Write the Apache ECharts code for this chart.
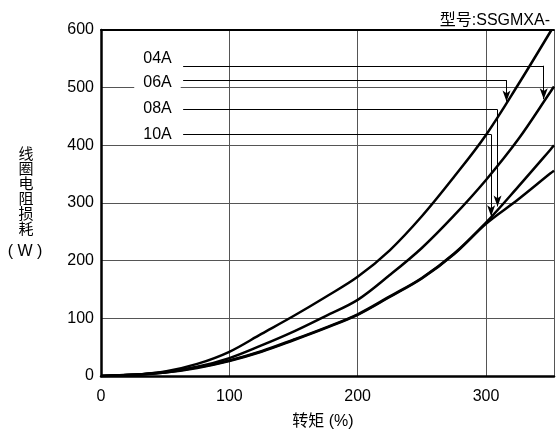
<!DOCTYPE html>
<html>
<head>
<meta charset="utf-8">
<script src="https://cdn.jsdelivr.net/npm/echarts@6/dist/echarts.min.js"></script>
<style>html,body{margin:0;padding:0;background:#fff;}#c{width:557px;height:437px;}</style>
</head>
<body>
<div id="c"></div>
<script>
// ---- data ----
const xTicks = [0, 100, 200, 300];
const yTicks = [0, 100, 200, 300, 400, 500, 600];

const x06A = [0, 25, 50, 75, 100, 125, 150, 175, 200, 225, 250, 275, 300, 325, 351];
const y06A = [0, 2, 8, 21, 42, 73, 104, 137, 172, 218, 277, 345, 418, 505, 600];

const x04A = [0, 25, 50, 75, 100, 125, 150, 175, 200, 225, 250, 275, 300, 325, 350, 353];
const y04A = [0, 2, 7, 16, 31, 53, 77, 104, 132, 175, 222, 278, 340, 410, 492, 502];

const x08A = [0, 25, 50, 75, 100, 125, 150, 175, 200, 225, 250, 275, 300, 325, 350, 353];
const y08A = [0, 2, 6, 15, 27, 43, 63, 84, 107, 138, 170, 212, 266, 328, 392, 400];

const x10A = [0, 25, 50, 75, 100, 125, 150, 175, 200, 225, 250, 275, 300, 325, 350, 353];
const y10A = [0, 2, 6, 14, 26, 42, 62, 83, 106, 137, 169, 211, 264, 306, 351, 356];

// annotation (labels with leader arrows), in data units
const leaderNames = ['04A', '06A', '08A', '10A'];
const labelX = [44, 44, 44, 44];
const labelY = [551, 508, 463, 419];
const leaderStartX = [64, 64, 64, 64];
const leaderY = [538, 513, 462, 419];
const arrowX = [345, 316, 309, 304];
const arrowTipY = [480, 476, 294, 277];

const titleText = '型号:SSGMXA-';
const yName = '线\n圈\n电\n阻\n损\n耗';
const yUnit = '( W )';
const xName = '转矩 (%)';

// ---- build ----
const FONT = "Arial, 'Liberation Sans', 'Noto Sans CJK SC', sans-serif";
const zip = (xs, ys) => xs.map((x, i) => [x, ys[i]]);

const curves = [
  ['06A', x06A, y06A], ['04A', x04A, y04A], ['08A', x08A, y08A], ['10A', x10A, y10A]
].map(([n, xs, ys]) => ({
  name: n, type: 'line', data: zip(xs, ys), showSymbol: false, symbol: 'none',
  smooth: 0.35, lineStyle: { color: '#000', width: 2.5 }, silent: true, z: 3
}));

const mlData = [];
leaderNames.forEach((n, i) => {
  mlData.push([{ coord: [leaderStartX[i], leaderY[i]], symbol: 'none' },
               { coord: [arrowX[i], leaderY[i]], symbol: 'none' }]);
  mlData.push([{ coord: [arrowX[i], leaderY[i]], symbol: 'none' },
               { coord: [arrowX[i], arrowTipY[i]], symbol: 'arrow', symbolSize: [6, 11] }]);
});

const annot = {
  type: 'scatter', silent: true, z: 4,
  data: leaderNames.map((n, i) => ({ name: n, value: [labelX[i], labelY[i]] })),
  symbolSize: 0,
  itemStyle: { opacity: 1, color: '#000' },
  label: {
    show: true, position: 'inside', formatter: '{b}', color: '#000', fontSize: 16,
    fontFamily: FONT, backgroundColor: '#fff', padding: [0, 9], lineHeight: 16
  },
  markLine: {
    silent: true, animation: false, symbol: ['none', 'none'],
    label: { show: false },
    lineStyle: { color: '#000', width: 1, type: 'solid', opacity: 1 },
    emphasis: { disabled: true },
    data: mlData
  }
};

const chart = echarts.init(document.getElementById('c'), null, { renderer: 'canvas' });
chart.setOption({
  animation: false,
  backgroundColor: '#fff',
  title: {
    text: titleText, right: 2, top: 8,
    textStyle: { fontSize: 16, fontWeight: 'normal', color: '#000', fontFamily: FONT }
  },
  grid: { left: 101, right: 0, top: 30, bottom: 61, containLabel: false },
  xAxis: [{
    type: 'value', min: 0, max: 353, interval: 100,
    axisLine: { show: true, onZero: false, lineStyle: { color: '#000', width: 2.5 } },
    axisTick: { show: false },
    splitLine: { show: true, lineStyle: { color: '#555', width: 1 } },
    axisLabel: {
      color: '#000', fontSize: 16, fontFamily: FONT, margin: 13,
      formatter: v => (xTicks.indexOf(v) >= 0 ? String(v) : '')
    }
  }, {
    type: 'value', min: 0, max: 353, position: 'top',
    axisLine: { show: true, onZero: false, lineStyle: { color: '#000', width: 2 } },
    axisTick: { show: false }, axisLabel: { show: false }, splitLine: { show: false }
  }],
  yAxis: {
    type: 'value', min: 0, max: 600, interval: 100,
    axisLine: { show: true, onZero: false, lineStyle: { color: '#000', width: 2.5 } },
    axisTick: { show: false },
    splitLine: { show: true, lineStyle: { color: '#555', width: 1 } },
    axisLabel: {
      color: '#000', fontSize: 16, fontFamily: FONT, margin: 7,
      formatter: v => (yTicks.indexOf(v) >= 0 ? String(v) : '')
    }
  },
  graphic: [
    { type: 'text', x: 26, y: 146, silent: true,
      style: { text: yName, align: 'center', verticalAlign: 'top', lineHeight: 15,
               font: "15px 'Noto Sans CJK SC', sans-serif", fill: '#000' } },
    { type: 'text', x: 25, y: 244, silent: true,
      style: { text: yUnit, align: 'center', verticalAlign: 'top',
               font: "16px Arial, 'Liberation Sans', sans-serif", fill: '#000' } },
    { type: 'text', x: 323, y: 414, silent: true,
      style: { text: xName, align: 'center', verticalAlign: 'top',
               font: "16px Arial, 'Liberation Sans', 'Noto Sans CJK SC', sans-serif", fill: '#000' } }
  ],
  series: curves.concat([annot])
});
</script>
</body>
</html>
